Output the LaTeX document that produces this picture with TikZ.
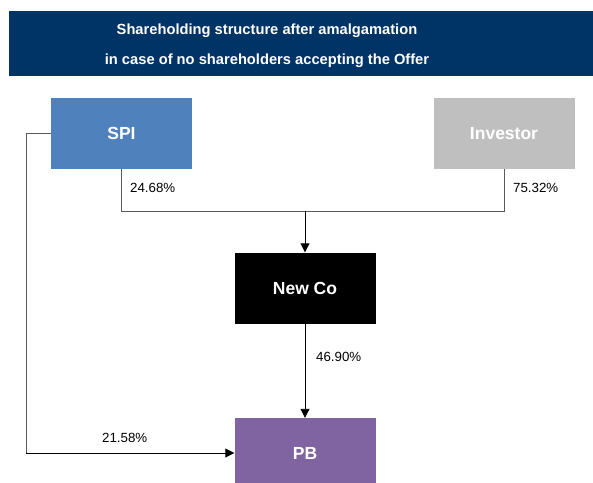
\documentclass[tikz,border=0pt]{standalone}
\usepackage{fontspec}
\setmainfont{Liberation Sans}
\usetikzlibrary{arrows.meta}
\definecolor{navy}{RGB}{0,51,102}
\definecolor{spiblue}{RGB}{79,129,189}
\definecolor{invgray}{RGB}{191,191,191}
\definecolor{pbpurple}{RGB}{128,100,162}
\definecolor{linegray}{RGB}{90,90,90}
\begin{document}
\begin{tikzpicture}[x=1pt,y=-1pt,
  entity/.style={minimum width=141pt,minimum height=71pt,inner sep=0pt,text=white,font=\fontsize{17.5}{20}\selectfont\bfseries},
  link/.style={draw=linegray,line width=0.9pt},
  arr/.style={-{Triangle[length=9pt,width=9pt]},black,line width=0.9pt},
  pct/.style={font=\fontsize{13.3}{15}\selectfont,text=black,inner sep=0pt}]
\useasboundingbox (0,0) rectangle (593,482);
\fill[navy] (9,11) rectangle (593,76);
\node[text=white,font=\fontsize{14.7}{29.5}\selectfont\bfseries,align=center] (title) at (267,45.5) {Shareholding structure after amalgamation\\in case of no shareholders accepting the Offer};
\node[entity,fill=spiblue] (spi) at (121.5,133.5) {SPI};
\node[entity,fill=invgray] (inv) at (504,133.5) {Investor};
\node[entity,fill=black] (newco) at (305,288) {New Co};
\begin{scope}
\clip (0,0) rectangle (593,482);
\node[entity,fill=pbpurple,minimum height=70pt] (pb) at (305,453) {};
\end{scope}
\node[text=white,font=\fontsize{17.5}{20}\selectfont\bfseries] (pbt) at (305,453) {PB};
\coordinate (j) at (305,211);
\draw[link] (spi.south) |- (j);
\draw[link] (inv.south) |- (j);
\draw[arr] (j) -- (newco.north);
\draw[arr] (newco.south) -- (pb.north);
\coordinate (c1) at (26,133.5);
\coordinate (c2) at (26,453);
\draw[link] (spi.west) -- (c1) -- (c2);
\draw[arr] (c2) -- (pb.west);
\node[pct,anchor=west] (l1) at (130,188) {24.68\%};
\node[pct,anchor=west] (l2) at (513,188) {75.32\%};
\node[pct,anchor=west] (l3) at (316,357) {46.90\%};
\node[pct,anchor=west] (l4) at (102,438) {21.58\%};
\end{tikzpicture}
\end{document}
